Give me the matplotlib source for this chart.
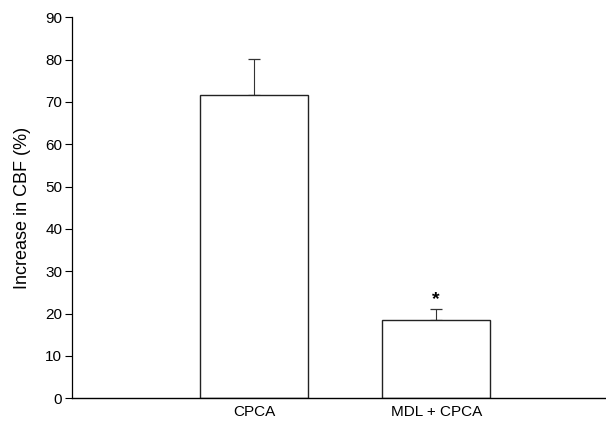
import matplotlib
matplotlib.use("Agg")
import matplotlib.pyplot as plt

categories = ["CPCA", "MDL + CPCA"]
values = [71.6, 18.5]
errors = [8.6, 2.6]
yticks = [0, 10, 20, 30, 40, 50, 60, 70, 80, 90]

plt.rcParams['font.family'] = ['Liberation Sans', 'DejaVu Sans']

fig = plt.figure(figsize=(6.06, 4.23), dpi=100)
ax = fig.add_axes([0.1188, 0.0584, 0.8812, 0.9006])

x = list(range(len(categories)))
ax.bar(x, values, width=0.595, color='white', edgecolor='#222222', linewidth=1.0, zorder=2)
ax.errorbar(x, values, yerr=[[0]*len(errors), errors], fmt='none', ecolor='#333333',
            elinewidth=0.8, capsize=4, capthick=0.9, zorder=1)
ax.text(1, values[1] + errors[1] + 0.1, "*", ha='center', va='bottom', fontsize=14, fontweight='bold')

ax.set_xlim(-1.003, 1.934)
ax.set_ylim(0, 90)
ax.set_yticks(yticks)
ax.set_xticks(x)
ax.set_xticklabels(categories, fontsize=11)
ax.tick_params(axis='x', length=0, pad=5)
ax.tick_params(axis='y', direction='out', length=5, width=0.8, labelsize=11, pad=2)
ax.set_ylabel("Increase in CBF (%)", fontsize=13, labelpad=10)
for s in ['top', 'right']:
    ax.spines[s].set_visible(False)
ax.spines['left'].set_linewidth(0.9)
ax.spines['bottom'].set_linewidth(1.0)

fig.savefig("out.png", dpi=100)
